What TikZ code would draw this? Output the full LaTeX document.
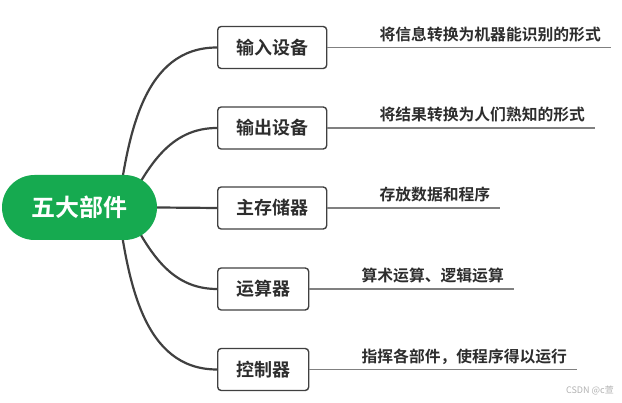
\documentclass[tikz,border=0pt]{standalone}
\usepackage{fontspec}
\setmainfont{Noto Sans CJK SC}[BoldFont={Noto Sans CJK SC Bold}]
\usetikzlibrary{positioning, backgrounds}

\definecolor{hubgreen}{RGB}{22,170,80}
\definecolor{edgegray}{RGB}{64,64,64}
\definecolor{leafgray}{RGB}{128,128,128}
\definecolor{textgray}{RGB}{45,45,45}

\begin{document}
\begin{tikzpicture}[
    x=1pt, y=1pt,
    hub/.style={fill=hubgreen, text=white, rounded corners=32.5pt,
        minimum width=155pt, minimum height=65pt, inner sep=0pt,
        font=\bfseries\fontsize{24}{24}\selectfont},
    part/.style={draw=edgegray, line width=1.4pt, rounded corners=3.5pt,
        anchor=west, minimum height=42pt, inner xsep=18.5pt, inner ysep=0pt,
        text=textgray, font=\bfseries\fontsize{18}{18}\selectfont},
    note/.style={anchor=base west, inner sep=0pt, text=textgray,
        font=\bfseries\fontsize{15.8}{16}\selectfont},
    branch/.style={draw=edgegray, line width=2.2pt},
    leaf/.style={draw=leafgray, line width=1.4pt}
]
    \useasboundingbox (0,0) rectangle (622,403);

    % Central node
    \node[hub] (parts) at (79.5,195.5) {五大部件};

    % Component boxes
    \node[part] (input)  at (217,355.5) {输入设备};
    \node[part] (output) at (217,275)   {输出设备};
    \node[part] (memory) at (217,195)   {主存储器};
    \node[part] (alu)    at (217,114)   {运算器};
    \node[part] (ctrl)   at (217,33.5)  {控制器};

    % Descriptions above the underlines
    \node[note] (inputnote)  at ([xshift=52pt, yshift=7pt]input.east)  {将信息转换为机器能识别的形式};
    \node[note] (outputnote) at ([xshift=52pt, yshift=7pt]output.east) {将结果转换为人们熟知的形式};
    \node[note] (memorynote) at ([xshift=52pt, yshift=7pt]memory.east) {存放数据和程序};
    \node[note] (alunote)    at ([xshift=52pt, yshift=7pt]alu.east)    {算术运算、逻辑运算};
    \node[note] (ctrlnote)   at ([xshift=52pt, yshift=7pt]ctrl.east)   {指挥各部件，使程序得以运行};

    % Branches from the central node
    \begin{scope}[on background layer]
        \coordinate (hubA) at (118,195);
        \coordinate (hubB) at (126,195);
        \draw[branch] (hubA) to[out=82, in=180] (input.west);
        \draw[branch] (hubB) to[out=62, in=180] (output.west);
        \draw[branch] (parts.east) -- (memory.west);
        \draw[branch] (hubB) to[out=-62, in=180] (alu.west);
        \draw[branch] (hubA) to[out=-82, in=180] (ctrl.west);
    \end{scope}

    % Underlines
    \foreach \comp/\desc in {input/inputnote, output/outputnote, memory/memorynote, alu/alunote, ctrl/ctrlnote}
        \draw[leaf] (\comp.east) -- ([xshift=10pt]\desc.east |- \comp.east);

    % Watermark
    \node[anchor=east, inner sep=0pt, text=black!30, font=\fontsize{9}{9}\selectfont] (mark) at (614,12) {CSDN @c萱};
\end{tikzpicture}
\end{document}
